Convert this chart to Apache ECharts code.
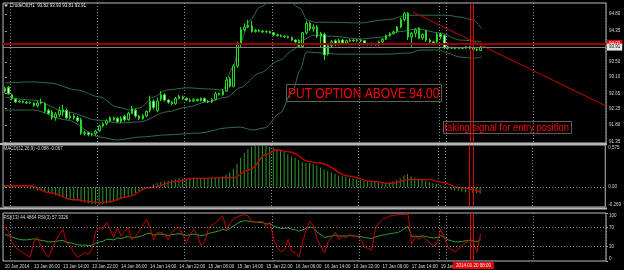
<!DOCTYPE html>
<html><head><meta charset="utf-8">
<script src="https://cdn.jsdelivr.net/npm/echarts@6/dist/echarts.min.js"></script>
<style>html,body{margin:0;padding:0;background:#000;}#c{width:624px;height:270px;}</style>
</head><body><div id="c"></div>
<script>
// ---------- data ----------
const nBars = 166; // visible bar slots incl. right shift
const timeLabels = ['10 Jan 2014','13 Jan 06:00','13 Jan 14:00','13 Jan 22:00','14 Jan 06:00','14 Jan 14:00','14 Jan 22:00','15 Jan 06:00','15 Jan 14:00','15 Jan 22:00','16 Jan 06:00','16 Jan 14:00','16 Jan 22:00','17 Jan 06:00','17 Jan 14:00','19 Jan 23:00'];
// [open, close, low, high]
const candles = [
[92.72,92.80,92.68,92.84],[92.82,92.65,92.62,92.86],[92.62,92.52,92.48,92.66],[92.50,92.43,92.40,92.52],[92.43,92.45,92.40,92.48],
[92.45,92.42,92.39,92.47],[92.42,92.40,92.37,92.45],[92.40,92.42,92.38,92.44],[92.40,92.33,92.30,92.42],[92.33,92.40,92.28,92.45],
[92.40,92.43,92.36,92.52],[92.38,92.18,92.12,92.42],[92.20,92.12,92.08,92.25],[92.15,92.00,91.95,92.22],[92.00,92.10,91.92,92.15],
[92.08,92.20,92.02,92.30],[92.15,92.22,92.05,92.35],[92.20,92.00,91.96,92.25],[92.00,92.05,91.95,92.15],[92.05,92.00,91.95,92.10],
[92.00,91.92,91.88,92.05],[91.95,91.58,91.54,92.00],[91.58,91.60,91.52,91.65],[91.60,91.55,91.50,91.62],[91.55,91.57,91.50,91.60],
[91.57,91.64,91.52,91.68],[91.65,91.78,91.62,91.82],[91.78,91.84,91.74,91.88],[91.84,91.92,91.80,91.96],[91.92,92.00,91.88,92.04],
[92.00,91.96,91.92,92.03],[91.98,91.90,91.86,92.02],[91.90,91.99,91.86,92.04],[92.04,91.95,91.90,92.08],[91.95,92.12,91.92,92.16],
[92.12,92.25,92.10,92.32],[92.20,92.05,92.00,92.25],[92.05,91.98,91.94,92.08],[91.98,92.06,91.95,92.10],[92.05,92.17,92.02,92.20],
[92.20,92.45,92.15,92.60],[92.45,92.28,92.22,92.50],[92.20,92.45,92.15,92.55],[92.50,92.62,92.45,92.72],[92.62,92.48,92.44,92.66],
[92.48,92.42,92.38,92.50],[92.42,92.38,92.34,92.45],[92.38,92.52,92.35,92.56],[92.52,92.58,92.50,92.62],[92.56,92.52,92.48,92.60],
[92.52,92.48,92.45,92.55],[92.48,92.45,92.42,92.52],[92.45,92.49,92.43,92.53],[92.49,92.47,92.44,92.52],[92.47,92.52,92.44,92.55],
[92.52,92.45,92.42,92.55],[92.45,92.43,92.40,92.48],[92.43,92.50,92.40,92.53],[92.50,92.65,92.47,92.70],[92.65,92.62,92.60,92.68],
[92.62,92.72,92.60,92.78],[92.72,93.02,92.70,93.10],[93.05,92.85,92.82,93.10],[92.85,93.40,92.82,93.45],[93.40,94.00,93.35,94.05],
[93.98,94.38,93.90,94.45],[94.38,94.45,94.33,94.55],[94.45,94.50,94.42,94.64],[94.48,94.33,94.30,94.62],[94.33,94.36,94.30,94.40],
[94.36,94.34,94.31,94.39],[94.34,94.32,94.29,94.37],[94.32,94.33,94.29,94.36],[94.33,94.30,94.27,94.35],[94.30,94.24,94.21,94.32],
[94.24,94.22,94.19,94.27],[94.22,94.20,94.17,94.25],[94.20,94.19,94.16,94.23],[94.19,94.17,94.14,94.22],[94.17,94.10,94.07,94.19],
[94.10,94.05,94.02,94.12],[94.08,93.92,93.88,94.12],[93.92,94.30,93.88,94.32],[94.30,94.55,94.25,94.62],[94.55,94.40,94.35,94.60],
[94.40,94.45,94.32,94.52],[94.45,94.20,94.15,94.50],[94.20,94.28,93.90,94.32],[94.25,93.70,93.56,94.30],[93.72,93.95,93.68,94.00],
[93.95,94.05,93.90,94.10],[94.08,93.98,93.94,94.12],[93.98,94.10,93.95,94.14],[94.10,94.02,93.98,94.13],[94.02,94.08,93.99,94.11],
[94.08,94.10,94.05,94.13],[94.10,94.08,94.05,94.12],[94.08,94.10,94.05,94.13],[94.10,94.08,94.04,94.12],[94.08,94.00,93.97,94.10],
[94.00,93.98,93.95,94.03],[93.98,94.00,93.95,94.03],[94.00,93.98,93.95,94.02],[93.98,94.05,93.95,94.08],[94.05,94.12,94.02,94.15],
[94.12,94.22,94.10,94.25],[94.22,94.28,94.19,94.31],[94.28,94.32,94.25,94.36],[94.32,94.45,94.30,94.48],[94.45,94.65,94.42,94.70],
[94.65,94.82,94.60,94.86],[94.82,94.18,94.10,94.86],[94.18,94.28,93.92,94.32],[94.28,94.38,94.18,94.42],[94.42,94.15,94.12,94.45],
[94.15,94.25,94.10,94.28],[94.35,94.10,94.05,94.38],[94.10,94.05,94.02,94.14],[94.05,94.02,93.98,94.08],[94.05,94.25,94.02,94.30],
[94.25,94.20,94.12,94.30],[94.22,93.90,93.85,94.25],[93.92,93.88,93.84,93.95],[93.88,93.90,93.86,93.92],[93.90,93.87,93.85,93.92],
[93.87,93.89,93.85,93.91],[93.89,93.88,93.85,93.91],[93.88,93.92,93.86,93.94],[93.92,93.88,93.85,93.94],[93.88,93.85,93.82,93.90],
[93.85,93.83,93.80,93.88],[93.82,93.91,93.81,93.93]
];
// Bollinger bands, [bar, price] points
const bbUpper = [[0,92.94],[7.8,92.97],[12.4,92.94],[19.9,92.75],[26.2,92.56],[30.9,92.29],[34.5,92.21],[37.2,92.27],[40.8,92.56],[44.6,92.75],[50.2,92.81],[55.7,92.78],[60,92.75],[62.8,93.37],[64.7,94.02],[67.5,94.64],[70.2,94.99],[73.8,95.18],[77.7,95.18],[81.3,94.96],[83.2,94.64],[85.4,94.58],[90.3,94.58],[97.8,94.56],[104.1,94.64],[106.9,94.67],[109.6,94.75],[111.5,94.77],[121.7,94.77],[125.3,94.72],[128.9,94.64],[131.3,94.40]];
const bbMiddle = [[0,92.56],[7.8,92.48],[17.1,92.16],[25.4,91.94],[31.7,91.86],[37.2,91.89],[44.6,92.16],[50.2,92.29],[55.7,92.43],[61.2,92.56],[64.7,92.81],[70.2,93.21],[75.8,93.56],[79.3,93.83],[82.1,94.10],[84.8,94.23],[90.3,94.20],[97.8,94.13],[104.1,94.18],[108.8,94.33],[113.5,94.40],[119.8,94.29],[125.3,94.10],[131.3,94.05]];
const bbLower = [[0,92.21],[7.8,92.21],[17.1,91.94],[26.2,91.48],[30.9,91.40],[37.2,91.48],[44.6,91.54],[53.7,91.59],[61.2,91.73],[64.7,91.75],[68.3,91.67],[71.6,91.73],[75.8,92.13],[79.3,92.75],[81.3,93.29],[83,93.78],[86.8,93.75],[92.3,93.72],[105.2,93.72],[111.5,93.75],[114.3,93.83],[119.8,93.83],[121.7,93.75],[125.3,93.64],[128.9,93.61],[131.3,93.64]];
const macdHist = [0.03,0.03,0.02,0.02,0.01,0.01,0.00,-0.02,-0.03,-0.04,
-0.05,-0.06,-0.07,-0.09,-0.11,-0.12,-0.13,-0.15,-0.16,-0.17,
-0.18,-0.20,-0.21,-0.22,-0.23,-0.23,-0.24,-0.23,-0.22,-0.21,
-0.20,-0.18,-0.16,-0.14,-0.12,-0.10,-0.08,-0.06,-0.04,-0.02,
0.01,0.04,0.06,0.07,0.08,0.09,0.10,0.11,0.12,0.12,
0.12,0.13,0.13,0.12,0.12,0.12,0.12,0.13,0.13,0.14,
0.15,0.17,0.20,0.25,0.32,0.40,0.47,0.52,0.55,0.57,
0.57,0.57,0.56,0.55,0.54,0.52,0.50,0.48,0.45,0.42,
0.40,0.37,0.34,0.33,0.33,0.32,0.30,0.27,0.24,0.22,
0.20,0.18,0.16,0.15,0.14,0.13,0.12,0.11,0.10,0.09,
0.08,0.07,0.07,0.06,0.06,0.06,0.07,0.08,0.10,0.12,
0.16,0.18,0.15,0.13,0.12,0.10,0.09,0.07,0.05,0.04,
0.03,0.01,-0.01,-0.03,-0.04,-0.05,-0.06,-0.07,-0.07,-0.08,
-0.08,-0.088];
const macdSignal = [[0,0.02],[6.9,0.02],[12.4,-0.075],[18.8,-0.17],[26.2,-0.21],[29,-0.195],[33.6,-0.13],[40,-0.005],[47.4,0.08],[51.8,0.12],[62.8,0.13],[67.5,0.24],[72.2,0.45],[74.9,0.51],[78.5,0.48],[84,0.35],[86.8,0.33],[95,0.15],[101.3,0.08],[106,0.05],[111.5,0.105],[117,0.105],[120.6,0.065],[125.3,-0.005],[131.3,-0.067]];
const rsi3 = [70,62,38,28,22,17,12,8,40,49,
30,18,8,25,42,55,66,38,32,18,
8,12,18,14,25,62,70,66,81,65,
49,70,52,62,70,44,52,62,75,87,
70,44,60,60,55,44,60,66,70,55,
38,55,66,55,32,40,66,75,80,87,
94,66,78,88,92,95,96,94,81,80,
82,83,72,81,45,28,19,23,45,19,
17,8,40,66,83,72,45,30,17,40,
49,60,45,51,49,55,51,51,45,30,
26,23,66,80,87,90,94,95,96,97,
97,98,35,51,45,51,45,38,30,38,
66,49,28,23,19,25,34,38,45,38,
19,57];
const rsi13 = [55,53,50,47,45,44,44,45,46,45,
43,42,40,40,41,42,43,39,38,36,
34,33,33,32,33,37,40,41,45,45,
44,48,47,49,51,48,49,51,53,57,
58,54,56,56,55,53,55,56,57,55,
53,55,56,55,53,54,57,59,61,63,
66,64,68,73,78,82,84,83,82,81,
80,80,77,78,73,70,68,68,69,66,
65,62,65,68,71,69,60,55,49,51,
52,54,52,52,52,53,52,52,51,49,
48,47,50,52,54,55,57,58,59,62,
68,72,51,52,51,52,51,49,48,49,
53,50,44,42,40,40,41,42,43,42,
40,44.5];
const priceTicks = [91.35, 91.80, 92.25, 92.65, 93.10, 93.50, 94.35, 94.80];
const macdTicks = [-0.269, 0, 0.575];
const rsiTicks = [0, 30, 70, 100];
const rsiLevels = [30, 70];
const hLinePrice = 94.01;
const bidPrice = 93.91;
const vLineBars = [128, 129];
const vLineLabel = '2014.01.20 08:00';
const trendLine = [[112.4, 94.85], [165.5, 92.32]];
const titleText = 'CrudeOil,H1  93.82 93.93 93.81 93.91';
const macdText = 'MACD(12,26,9) -0.088 -0.067';
const rsiText = 'RSI(13) 44.4864 RSI(3) 57.3326';
const note1 = 'PUT OPTION ABOVE 94.00';
const note2 = 'taking signal for entry position';

// ---------- chart ----------
const cats = [];
for (let i = 0; i < nBars; i++) cats.push(String(i));
const gridBars = [2, 26, 50, 74, 98, 120, 122, 146];
const FONT = 'Liberation Sans';
const lblColor = '#d4d4d4';
const dotted = { color: '#8c8c8c', type: [1, 2], width: 1 };
const catSplit = { show: true, interval: (idx) => gridBars.indexOf(idx) >= 0, lineStyle: dotted };
const chart = echarts.init(document.getElementById('c'), null, { renderer: 'canvas' });

const grids = [
  { left: 3, top: 3, width: 603, height: 140 },
  { left: 3, top: 145, width: 603, height: 62 },
  { left: 3, top: 213, width: 603, height: 48 }
].map(g => Object.assign(g, { show: true, borderColor: '#bdbdbd', borderWidth: 1, backgroundColor: '#000' }));

function catAxis(gi, showLabels) {
  return {
    type: 'category', gridIndex: gi, data: cats, boundaryGap: true,
    axisLine: { show: false }, axisTick: { show: false },
    axisLabel: showLabels ? {
      show: true, interval: (idx) => idx % 8 === 0 && idx / 8 < timeLabels.length,
      formatter: (v, idx) => timeLabels[idx / 8], align: 'left', margin: 3,
      fontSize: 4.5, fontFamily: FONT, color: lblColor
    } : { show: false },
    splitLine: catSplit
  };
}
function valXAxis(gi) {
  return { type: 'value', gridIndex: gi, min: -0.5, max: nBars - 0.5, show: false };
}
function rightAxis(gi, min, max, ticks, fmt, edgeAlign) {
  const lab = { show: true, customValues: ticks, formatter: fmt, margin: 3, fontSize: 4.5, fontFamily: FONT, color: lblColor, hideOverlap: false };
  if (edgeAlign) { lab.verticalAlignMaxLabel = 'top'; lab.verticalAlignMinLabel = 'bottom'; }
  return {
    type: 'value', gridIndex: gi, position: 'right', min: min, max: max, scale: true,
    axisLine: { show: false },
    axisTick: { show: true, customValues: ticks, length: 2, lineStyle: { color: '#a4a4a4' } },
    axisLabel: lab,
    splitLine: { show: false }
  };
}
const vLineData = vLineBars.map(b => ({ xAxis: String(b) }));
const redV = { color: '#e00000', width: 1, type: 'solid' };

const option = {
  backgroundColor: '#000',
  animation: false,
  grid: grids,
  xAxis: [catAxis(0, false), valXAxis(0), catAxis(1, false), valXAxis(1), catAxis(2, true)],
  yAxis: [
    rightAxis(0, 91.32, 95.10, priceTicks, v => v.toFixed(2), false),
    rightAxis(1, -0.269, 0.575, macdTicks, v => (v === 0 ? '0.00' : String(v)), true),
    rightAxis(2, 0, 100, rsiTicks, v => String(v), true)
  ],
  series: [
    {
      type: 'candlestick', xAxisIndex: 0, yAxisIndex: 0, data: candles, barWidth: 2,
      itemStyle: { color: '#000000', color0: '#ffffff', borderColor: '#22dd22', borderColor0: '#22dd22', borderWidth: 1 },
      markLine: {
        silent: true, symbol: ['none', 'none'], animation: false,
        data: [
          ...vLineData.map(d => Object.assign({}, d, { lineStyle: redV, label: { show: false } })),
          { yAxis: hLinePrice, lineStyle: { color: '#9a0000', width: 2, type: 'solid' },
            label: { show: true, position: 'end', distance: 1, formatter: p => p.value.toFixed(2), backgroundColor: '#e00000', color: '#fff', fontSize: 4.5, fontFamily: FONT, padding: [1, 2] } },
          { yAxis: bidPrice, lineStyle: { color: '#808080', width: 1, type: 'solid' },
            label: { show: true, position: 'end', distance: 1, formatter: p => p.value.toFixed(2), backgroundColor: '#e8e8e8', color: '#000', fontSize: 4.5, fontFamily: FONT, padding: [1, 2] } }
        ]
      }
    },
    ...[bbUpper, bbMiddle, bbLower].map(d => ({
      type: 'line', xAxisIndex: 1, yAxisIndex: 0, data: d, showSymbol: false, smooth: 0.3, smoothMonotone: 'x',
      lineStyle: { color: '#2d6e4e', width: 1 }, z: 1
    })),
    {
      type: 'line', xAxisIndex: 1, yAxisIndex: 0, data: trendLine, showSymbol: false,
      lineStyle: { color: '#c80000', width: 1 }, z: 4
    },
    {
      type: 'bar', xAxisIndex: 2, yAxisIndex: 1, data: macdHist, barWidth: 1,
      itemStyle: { color: '#2f9a2f' },
      markLine: {
        silent: true, symbol: ['none', 'none'], animation: false,
        data: [
          { yAxis: 0, lineStyle: dotted, label: { show: false } },
          ...vLineData.map(d => Object.assign({}, d, { lineStyle: redV, label: { show: false } }))
        ]
      }
    },
    {
      type: 'line', xAxisIndex: 3, yAxisIndex: 1, data: macdSignal, showSymbol: false, smooth: 0.4, smoothMonotone: 'x',
      lineStyle: { color: '#c80000', width: 1.3 }, z: 4
    },
    {
      type: 'line', xAxisIndex: 4, yAxisIndex: 2, data: rsi13, showSymbol: false,
      lineStyle: { color: '#2f9f2f', width: 1 }
    },
    {
      type: 'line', xAxisIndex: 4, yAxisIndex: 2, data: rsi3, showSymbol: false,
      lineStyle: { color: '#c00000', width: 1 },
      markLine: {
        silent: true, symbol: ['none', 'none'], animation: false,
        data: [
          ...rsiLevels.map(v => ({ yAxis: v, lineStyle: dotted, label: { show: false } })),
          { xAxis: String(vLineBars[0]), lineStyle: redV, label: { show: false } },
          { xAxis: String(vLineBars[1]), lineStyle: redV,
            label: { show: true, position: 'start', distance: 1, formatter: vLineLabel, backgroundColor: '#e00000', color: '#fff', fontSize: 4.5, fontFamily: FONT, padding: [1, 3] } }
        ]
      }
    }
  ],
  graphic: [
    { type: 'rect', z: 90, shape: { x: 0, y: 143, width: 607, height: 2 }, style: { fill: '#b8b8b8' } },
    { type: 'rect', z: 90, shape: { x: 0, y: 207.5, width: 607, height: 2 }, style: { fill: '#b8b8b8' } },
    { type: 'polygon', z: 100, shape: { points: [[4, 4.5], [8, 4.5], [6, 7]] }, style: { fill: '#e0e0e0' } },
    { type: 'text', z: 100, x: 10, y: 6, style: { text: titleText, fill: '#e6e6e6', fontSize: 4.5, fontFamily: FONT, verticalAlign: 'middle' } },
    { type: 'text', z: 100, x: 3.5, y: 149, style: { text: macdText, fill: '#d8d8d8', fontSize: 4.5, fontFamily: FONT, verticalAlign: 'middle' } },
    { type: 'text', z: 100, x: 3.5, y: 218, style: { text: rsiText, fill: '#d8d8d8', fontSize: 4.5, fontFamily: FONT, verticalAlign: 'middle' } },
    { type: 'rect', z: 100, shape: { x: 286.5, y: 84.5, width: 155, height: 17 }, style: { fill: 'rgba(0,0,0,0)', stroke: '#5e5e5e', lineWidth: 1 } },
    { type: 'text', z: 101, x: 288, y: 93.5, scaleX: 0.8, style: { text: note1, fill: '#ff0000', fontSize: 15, fontFamily: FONT, verticalAlign: 'middle' } },
    { type: 'rect', z: 100, shape: { x: 443.5, y: 121.5, width: 128, height: 12 }, style: { fill: 'rgba(0,0,0,0)', stroke: '#5e5e5e', lineWidth: 1 } },
    { type: 'text', z: 101, x: 444.5, y: 127.8, scaleX: 0.94, style: { text: note2, fill: '#ff0000', fontSize: 10, fontFamily: FONT, verticalAlign: 'middle' } }
  ]
};
chart.setOption(option);
</script>
</body></html>
